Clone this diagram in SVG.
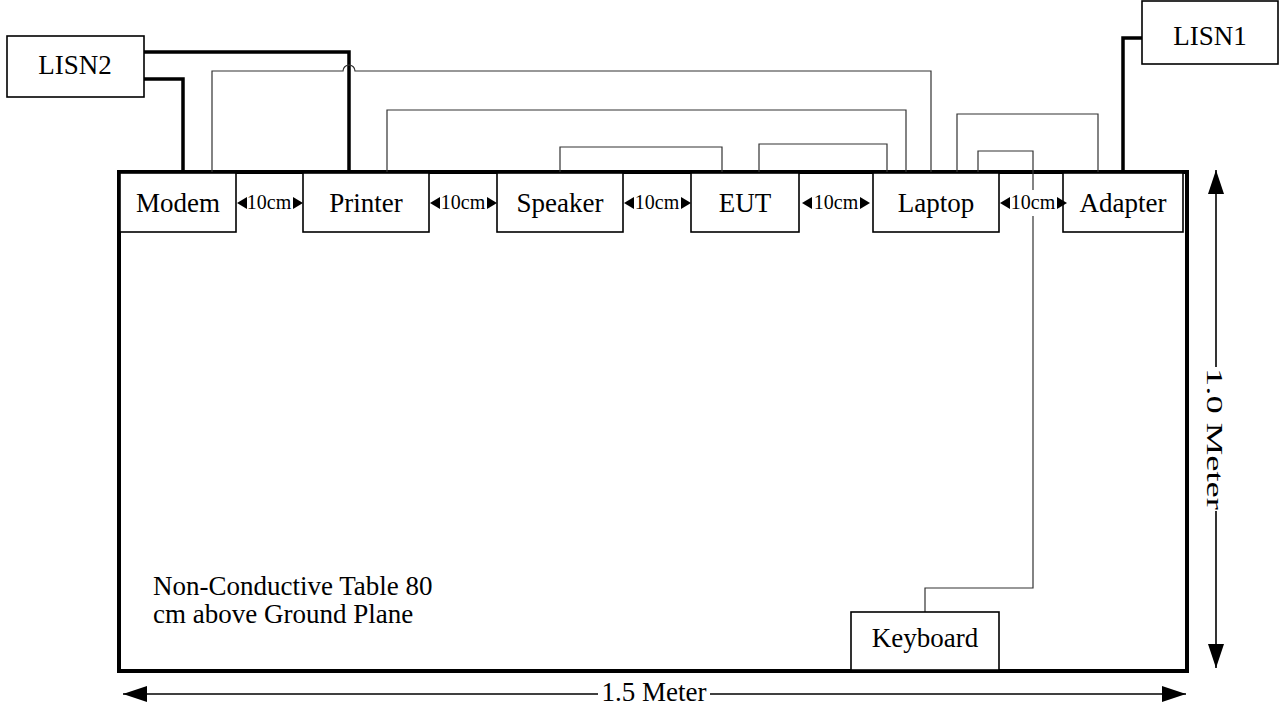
<svg xmlns="http://www.w3.org/2000/svg" width="1279" height="711" viewBox="0 0 1279 711">
<defs>
<style>
.box{fill:#fff;stroke:#000;stroke-width:1.6}
.lbl{font-family:"Liberation Serif","Times New Roman",serif;font-size:27px;fill:#000;text-anchor:middle}
.note{font-family:"Liberation Serif","Times New Roman",serif;font-size:27px;fill:#000}
.small{font-family:"Liberation Serif","Times New Roman",serif;font-size:20px;fill:#000;text-anchor:middle}
.thin{fill:none;stroke:#333;stroke-width:1.2}
.thick{fill:none;stroke:#000;stroke-width:3.5}
.dim{fill:none;stroke:#000;stroke-width:1.6}
</style>
<marker id="ba" viewBox="0 0 24 16" refX="24" refY="8" markerWidth="25" markerHeight="16" markerUnits="userSpaceOnUse" orient="auto-start-reverse">
<path d="M0,0 L24,8 L0,16 Z" fill="#000"/>
</marker>
</defs>
<rect width="1279" height="711" fill="#fff"/>

<g id="table">
<rect x="119" y="172" width="1068" height="499" fill="none" stroke="#000" stroke-width="4"/>
<text class="note" x="153" y="595">Non-Conductive Table 80</text>
<text class="note" x="153" y="623">cm above Ground Plane</text>
</g>

<g id="connectors">
<path class="thick" d="M144,52 H349 V172"/>
<path class="thick" d="M144,79 H183 V172"/>
<path class="thick" d="M1142,38 H1123 V172"/>
<path class="thin" d="M212,172 V71 H343 A6,6 0 0 1 355,71 H931 V172"/>
<path class="thin" d="M387,172 V110 H906 V172"/>
<path class="thin" d="M560,172 V147 H722 V172"/>
<path class="thin" d="M759,172 V144 H887 V172"/>
<path class="thin" d="M957,172 V114 H1098 V172"/>
<path class="thin" d="M978,172 V151 H1033 V588 H925 V612"/>
</g>

<g id="LISN2"><rect class="box" x="7" y="36" width="137" height="61"/><text class="lbl" x="75" y="74">LISN2</text></g>
<g id="LISN1"><rect class="box" x="1142" y="1" width="136" height="63"/><text class="lbl" x="1210" y="45">LISN1</text></g>
<g id="Modem"><rect class="box" x="120" y="173" width="116" height="59"/><text class="lbl" x="178" y="212">Modem</text></g>
<g id="Printer"><rect class="box" x="303" y="173" width="126" height="59"/><text class="lbl" x="366" y="212">Printer</text></g>
<g id="Speaker"><rect class="box" x="497" y="173" width="126" height="59"/><text class="lbl" x="560" y="212">Speaker</text></g>
<g id="EUT"><rect class="box" x="691" y="173" width="108" height="59"/><text class="lbl" x="745" y="212">EUT</text></g>
<g id="Laptop"><rect class="box" x="873" y="173" width="126" height="59"/><text class="lbl" x="936" y="212">Laptop</text></g>
<g id="Adapter"><rect class="box" x="1063" y="173" width="120" height="59"/><text class="lbl" x="1123" y="212">Adapter</text></g>
<g id="Keyboard"><rect class="box" x="851" y="612" width="148" height="58"/><text class="lbl" x="925" y="647">Keyboard</text></g>

<g id="spacing">
<g><rect x="243" y="190" width="52" height="26" fill="#fff"/><text class="small" x="269" y="209">10cm</text><polygon points="237,203 247,197 247,209"/><polygon points="303,203 293,197 293,209"/></g>
<g><rect x="436" y="190" width="54" height="26" fill="#fff"/><text class="small" x="463" y="209">10cm</text><polygon points="430,203 440,197 440,209"/><polygon points="497,203 487,197 487,209"/></g>
<g><rect x="630" y="190" width="54" height="26" fill="#fff"/><text class="small" x="657" y="209">10cm</text><polygon points="624,203 634,197 634,209"/><polygon points="691,203 681,197 681,209"/></g>
<g><rect x="809" y="190" width="54" height="26" fill="#fff"/><text class="small" x="836" y="209">10cm</text><polygon points="802,203 812,197 812,209"/><polygon points="870,203 860,197 860,209"/></g>
<g><rect x="1006" y="190" width="54" height="26" fill="#fff"/><text class="small" x="1033" y="209">10cm</text><polygon points="1000,203 1010,197 1010,209"/><polygon points="1067,203 1057,197 1057,209"/></g>
</g>

<g id="dimensions">
<path class="dim" d="M710,694 H1186" marker-end="url(#ba)"/>
<path class="dim" d="M123,694 H598" marker-start="url(#ba)"/>
<text class="lbl" x="654" y="701">1.5 Meter</text>
<path class="dim" d="M1216,170 V367" marker-start="url(#ba)"/>
<path class="dim" d="M1216,511 V668" marker-end="url(#ba)"/>
<text class="lbl" transform="translate(1207,439) rotate(90)" textLength="142" lengthAdjust="spacingAndGlyphs" style="font-size:23px">1.0 Meter</text>
</g>
</svg>
